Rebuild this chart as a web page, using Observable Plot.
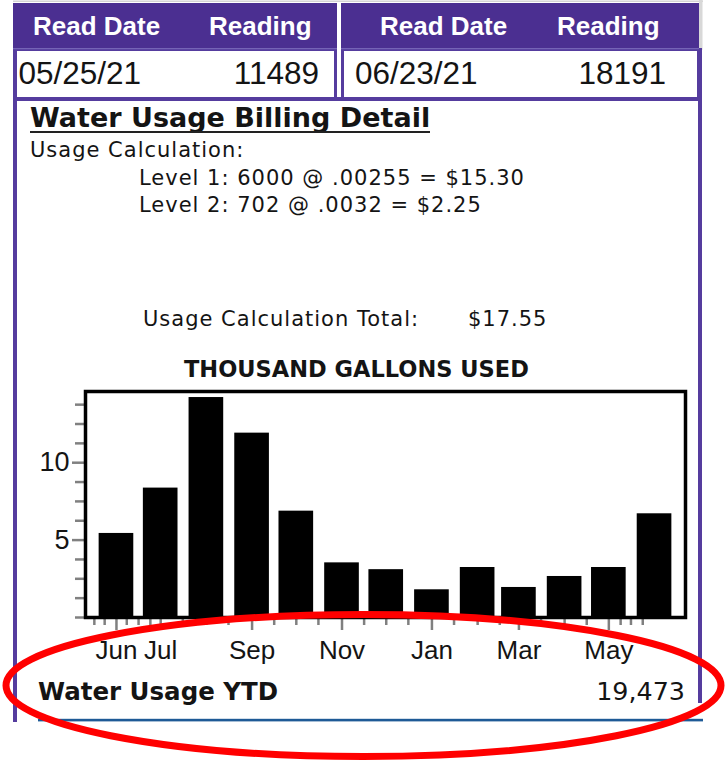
<!DOCTYPE html>
<html>
<head>
<meta charset="utf-8">
<script src="https://cdn.jsdelivr.net/npm/d3@7"></script>
<script src="https://cdn.jsdelivr.net/npm/@observablehq/plot@0.6"></script>
<style>
html, body { margin: 0; padding: 0; background: #fff; }
#page { position: relative; width: 725px; height: 761px; overflow: hidden; background: #fff; }
#deco, #overlay { position: absolute; left: 0; top: 0; }
#overlay { pointer-events: none; }
#chart { position: absolute; left: 20px; top: 380px; }
</style>
</head>
<body>
<div id="page">
  <svg id="deco" width="725" height="761"></svg>
  <div id="chart"></div>
  <svg id="overlay" width="725" height="761"></svg>
</div>
<script>
// ---------- data ----------
const headerLabels = ["Read Date", "Reading", "Read Date", "Reading"];
const readDates = ["05/25/21", "06/23/21"];
const readings = ["11489", "18191"];
const billTitle = "Water Usage Billing Detail";
const calcHeading = "Usage Calculation:";
const calcLines = ["Level 1: 6000 @ .00255 = $15.30", "Level 2: 702 @ .0032 = $2.25"];
const totalLabel = "Usage Calculation Total:";
const totalValue = "$17.55";
const chartTitle = "THOUSAND GALLONS USED";
const ytdLabel = "Water Usage YTD";
const ytdValue = "19,473";

const months = ["2020-06-01", "2020-07-01", "2020-08-01", "2020-09-01", "2020-10-01", "2020-11-01", "2020-12-01",
                "2021-01-01", "2021-02-01", "2021-03-01", "2021-04-01", "2021-05-01", "2021-06-01"];
const usage = [5.43, 8.36, 14.21, 11.91, 6.87, 3.53, 3.09, 1.79, 3.23, 1.94, 2.65, 3.23, 6.70];

const xDomain = ["2020-05-11", "2021-06-22"];
const yDomain = [0, 14.6];
const labelTickDates = ["2020-06-01", "2020-07-01", "2020-09-01", "2020-11-01", "2021-01-01", "2021-03-01", "2021-05-01"];
const longTickDates = ["2020-06-01", "2020-09-01", "2020-11-01", "2021-01-01", "2021-03-01", "2021-05-01"];
const shortTickDates = ["2020-05-17", "2020-05-24", "2020-06-08", "2020-06-16", "2020-06-24", "2020-07-01",
                        "2020-07-16", "2020-08-01", "2020-08-16", "2020-09-16", "2020-10-01", "2020-10-16",
                        "2020-11-16", "2020-12-01", "2020-12-16", "2021-01-16", "2021-02-01", "2021-02-16",
                        "2021-03-16", "2021-04-01", "2021-04-16", "2021-05-09", "2021-05-16", "2021-05-24"];
const yMinorTicks = [0, 1.25, 2.5, 3.75, 6.25, 7.5, 8.75, 11.25, 12.5, 13.75];
const yLabelTicks = [5, 10];

// ---------- page decoration (document around the chart) ----------
const ns = "http://www.w3.org/2000/svg";
function el(parent, tag, attrs, text) {
  const e = document.createElementNS(ns, tag);
  for (const k in attrs) e.setAttribute(k, attrs[k]);
  if (text != null) e.textContent = text;
  parent.appendChild(e);
  return e;
}
const PURPLE = "#4b2f91";
const BORDER = "#553c9e";
const deco = document.getElementById("deco");

el(deco, "rect", {x: 13, y: 0.5, width: 690, height: 1.5, fill: "#d4d4d4"});
el(deco, "rect", {x: 699, y: 0, width: 3.5, height: 50, fill: "#d8d8d8"});
el(deco, "rect", {x: 13, y: 3, width: 686, height: 47, fill: PURPLE});
el(deco, "rect", {x: 13, y: 48, width: 689, height: 53, fill: BORDER});
el(deco, "rect", {x: 13, y: 48, width: 686, height: 1.2, fill: "#7563b6"});
el(deco, "rect", {x: 17, y: 51, width: 317, height: 46, fill: "#fff"});
el(deco, "rect", {x: 344, y: 51, width: 353, height: 46, fill: "#fff"});
el(deco, "rect", {x: 337, y: 3, width: 4, height: 94, fill: "#fff"});
el(deco, "rect", {x: 13, y: 97, width: 4, height: 625, fill: BORDER});
el(deco, "rect", {x: 698, y: 97, width: 4, height: 606, fill: BORDER});
el(deco, "rect", {x: 38, y: 718.8, width: 665, height: 2.6, fill: "#1e5a96"});

const hdrX = [33, 209, 380, 557];
headerLabels.forEach((t, i) => el(deco, "text", {x: hdrX[i], y: 35, fill: "#fff",
  "font-family": "'Liberation Sans', Arial, sans-serif", "font-weight": "bold", "font-size": 26}, t));
const rowFont = {"font-family": "'Liberation Sans', Arial, sans-serif", "font-size": 31.5, fill: "#141414"};
el(deco, "text", {...rowFont, x: 18.5, y: 83.5}, readDates[0]);
el(deco, "text", {...rowFont, x: 319, y: 83.5, "text-anchor": "end"}, readings[0]);
el(deco, "text", {...rowFont, x: 355, y: 83.5}, readDates[1]);
el(deco, "text", {...rowFont, x: 666, y: 83.5, "text-anchor": "end"}, readings[1]);

el(deco, "text", {x: 30, y: 127, fill: "#141414", "font-family": "'DejaVu Sans', sans-serif",
  "font-weight": "bold", "font-size": 27}, billTitle);
el(deco, "rect", {x: 30, y: 131, width: 400, height: 2, fill: "#222"});
const bodyFont = {"font-family": "'DejaVu Sans', sans-serif", "font-size": 21, fill: "#141414", style: "letter-spacing:1px"};
el(deco, "text", {...bodyFont, x: 30, y: 157}, calcHeading);
el(deco, "text", {...bodyFont, x: 139, y: 184.5}, calcLines[0]);
el(deco, "text", {...bodyFont, x: 139, y: 211.5}, calcLines[1]);
el(deco, "text", {...bodyFont, x: 143, y: 326}, totalLabel);
el(deco, "text", {...bodyFont, x: 468, y: 326}, totalValue);

el(deco, "text", {x: 184, y: 377, fill: "#141414", "font-family": "'DejaVu Sans', sans-serif",
  "font-weight": "bold", "font-size": 22.5}, chartTitle);

el(deco, "text", {x: 38, y: 700, fill: "#141414", "font-family": "'DejaVu Sans', sans-serif",
  "font-weight": "bold", "font-size": 24.5}, ytdLabel);
el(deco, "text", {x: 685, y: 700, fill: "#141414", "font-family": "'DejaVu Sans', sans-serif",
  "font-size": 25.4, "text-anchor": "end"}, ytdValue);

// ---------- chart ----------
const parse = d3.utcParse("%Y-%m-%d");
const data = months.map((m, i) => ({date: parse(m), value: usage[i]}));
const halfBarMs = 11.75 * 864e5;
const TICK = "#808080";

const chart = Plot.plot({
  width: 680,
  height: 290,
  marginLeft: 65,
  marginRight: 15,
  marginTop: 11,
  marginBottom: 53,
  style: {fontFamily: "'Liberation Sans', Arial, sans-serif", fontSize: "26px", color: "#141414",
          background: "transparent", overflow: "visible"},
  x: {type: "utc", domain: xDomain.map(parse), label: null},
  y: {domain: yDomain, label: null},
  marks: [
    Plot.rectY(data, {
      x1: d => new Date(+d.date - halfBarMs),
      x2: d => new Date(+d.date + halfBarMs),
      y: "value",
      fill: "black",
      inset: 0
    }),
    Plot.axisX(shortTickDates.map(parse), {tickSize: 8, tickFormat: () => "", stroke: TICK, strokeWidth: 2.5, label: null}),
    Plot.axisX(longTickDates.map(parse), {tickSize: 13, tickFormat: () => "", stroke: TICK, strokeWidth: 2.5, label: null}),
    Plot.axisX(labelTickDates.map(parse), {tickSize: 0, tickPadding: 23.5, tickFormat: d3.utcFormat("%b"), fontSize: 26, label: null}),
    Plot.axisY(yMinorTicks, {tickSize: 10, tickFormat: () => "", stroke: TICK, strokeWidth: 2.5, label: null}),
    Plot.axisY(yLabelTicks, {tickSize: 13, tickPadding: 3, fontSize: 27, stroke: TICK, strokeWidth: 2.5, label: null}),
    Plot.frame({stroke: "black", strokeWidth: 3.5})
  ]
});
document.getElementById("chart").appendChild(chart);

// ---------- red annotation ellipse ----------
const overlay = document.getElementById("overlay");
el(overlay, "ellipse", {cx: 363.5, cy: 685.5, rx: 357.5, ry: 71, fill: "none", stroke: "#ff0000", "stroke-width": 7});
</script>
</body>
</html>
